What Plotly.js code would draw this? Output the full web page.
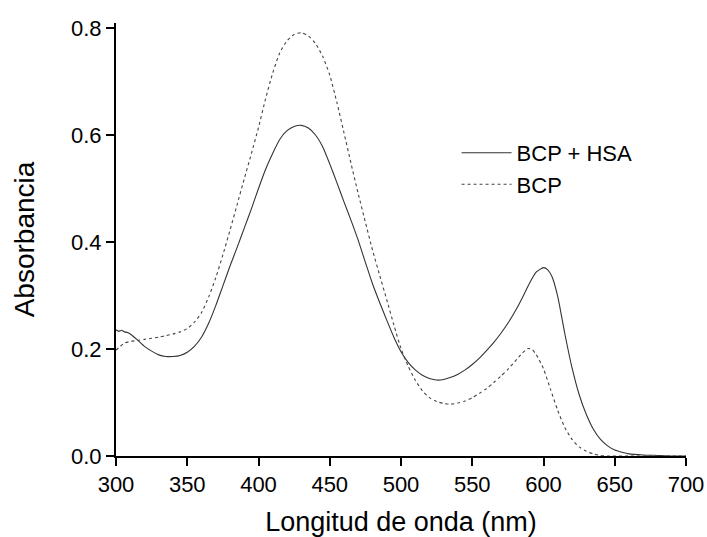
<!DOCTYPE html>
<html>
<head>
<meta charset="utf-8">
<script src="https://cdn.plot.ly/plotly-3.0.1.min.js"></script>
<style>html,body{margin:0;padding:0;background:#fff;}#chart{width:707px;height:537px;}</style>
</head>
<body>
<div id="chart"></div>
<script>
// Wavelength (nm) and absorbance values
const wlHSA = [300,302,304,306,308,310,315,320,325,330,335,340,345,350,355,360,365,370,375,380,385,390,395,400,405,410,415,420,425,430,435,440,445,450,455,460,465,470,475,480,485,490,495,500,505,510,515,520,525,530,535,540,545,550,555,560,565,570,575,580,585,590,595,600,603,606,610,615,620,625,630,635,640,645,650,655,660,670,680,690,700];
const absHSA = [0.236,0.233,0.235,0.232,0.231,0.228,0.217,0.205,0.196,0.189,0.186,0.186,0.188,0.194,0.205,0.222,0.248,0.281,0.318,0.355,0.390,0.426,0.462,0.500,0.536,0.566,0.592,0.608,0.616,0.618,0.613,0.600,0.578,0.546,0.511,0.475,0.440,0.403,0.362,0.322,0.287,0.254,0.222,0.195,0.175,0.161,0.151,0.145,0.142,0.143,0.147,0.153,0.161,0.171,0.183,0.197,0.212,0.229,0.248,0.270,0.295,0.322,0.344,0.352,0.348,0.335,0.298,0.228,0.165,0.115,0.078,0.050,0.031,0.019,0.011,0.007,0.004,0.002,0.001,0.000,0.000];

const wlBCP = [300,303,306,310,315,320,325,330,335,340,345,350,355,360,365,370,375,380,385,390,395,400,405,410,415,420,425,430,435,440,445,450,455,460,465,470,475,480,485,490,495,500,505,510,515,520,525,530,535,540,545,550,555,560,565,570,575,580,585,589,592,595,600,605,610,615,620,625,630,635,640,645,660,680,700];
const absBCP = [0.198,0.205,0.211,0.214,0.216,0.218,0.220,0.222,0.225,0.228,0.232,0.238,0.250,0.268,0.297,0.333,0.376,0.422,0.470,0.518,0.565,0.614,0.668,0.716,0.754,0.776,0.788,0.791,0.785,0.771,0.747,0.712,0.661,0.604,0.546,0.490,0.437,0.385,0.338,0.292,0.245,0.201,0.168,0.142,0.122,0.109,0.102,0.098,0.097,0.099,0.103,0.109,0.117,0.126,0.137,0.149,0.162,0.177,0.192,0.201,0.199,0.189,0.163,0.124,0.085,0.053,0.031,0.017,0.009,0.004,0.001,0.000,0.000,0.000,0.000];

const seriesNames = ["BCP + HSA", "BCP"];
const xTicks = [300,350,400,450,500,550,600,650,700];
const yTicks = [0.0,0.2,0.4,0.6,0.8];

const FONT = "Liberation Sans, Arial, sans-serif";

const traces = [
  {x: wlHSA, y: absHSA, name: seriesNames[0], type: "scatter", mode: "lines",
   line: {color: "#333333", width: 1.1, shape: "spline", smoothing: 0.6}},
  {x: wlBCP, y: absBCP, name: seriesNames[1], type: "scatter", mode: "lines",
   line: {color: "#444444", width: 1.1, dash: "3px,3px", shape: "spline", smoothing: 0.6}}
];

const layout = {
  width: 707, height: 537,
  margin: {l: 116, r: 21, t: 23, b: 81, pad: 0},
  paper_bgcolor: "#ffffff", plot_bgcolor: "#ffffff",
  font: {family: FONT, color: "#000000"},
  showlegend: true,
  legend: {x: 0.5975, y: 0.7485, xanchor: "left", yanchor: "top",
           bgcolor: "rgba(0,0,0,0)", font: {family: FONT, size: 22, color: "#000"},
           itemwidth: 50, tracegroupgap: 0},
  xaxis: {
    range: [300, 700], tickvals: xTicks, ticktext: xTicks.map(String),
    showgrid: false, zeroline: false, showline: true, linecolor: "#000", linewidth: 2,
    ticks: "outside", ticklen: 8, tickwidth: 2, tickcolor: "#000",
    tickfont: {family: FONT, size: 22, color: "#000"},
    title: {text: "Longitud de onda (nm)", font: {family: FONT, size: 27, color: "#000"}, standoff: 16}
  },
  yaxis: {
    range: [0, 0.8093], tickvals: yTicks, ticktext: yTicks.map(v => v.toFixed(1)),
    showgrid: false, zeroline: false, showline: true, linecolor: "#000", linewidth: 2,
    ticks: "outside", ticklen: 8, tickwidth: 2, tickcolor: "#000",
    tickfont: {family: FONT, size: 22, color: "#000"},
    title: {text: "Absorbancia", font: {family: FONT, size: 28, color: "#000"}, standoff: 28}
  }
};

Plotly.newPlot("chart", traces, layout, {staticPlot: true, displayModeBar: false});
</script>
</body>
</html>
